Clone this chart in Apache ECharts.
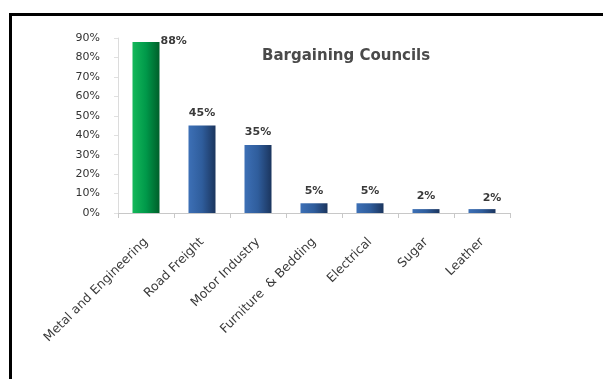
<!DOCTYPE html>
<html>
<head>
<meta charset="utf-8">
<script src="https://cdn.jsdelivr.net/npm/echarts@6/dist/echarts.min.js"></script>
<style>
  html, body { margin: 0; padding: 0; background: #fff; }
  #chart { position: absolute; left: 0; top: 0; width: 603px; height: 379px; }
  #frame { position: absolute; left: 9px; top: 13px; width: 700px; height: 400px;
           border-top: 3px solid #000; border-left: 3px solid #000; pointer-events: none; }
</style>
</head>
<body>
<div id="chart"></div>
<div id="frame"></div>
<script>
// Share of workers covered, by bargaining council
const categories = ['Metal and Engineering', 'Road Freight', 'Motor Industry',
                    'Furniture  & Bedding', 'Electrical', 'Sugar', 'Leather'];
const shares = [88, 45, 35, 5, 5, 2, 2];
const yTicks = [0, 10, 20, 30, 40, 50, 60, 70, 80, 90];

const chart = echarts.init(document.getElementById('chart'), null, { renderer: 'canvas' });
const FONT = 'DejaVu Sans, Verdana, sans-serif';

function barFill(first) {
  return first
    ? new echarts.graphic.LinearGradient(0, 0, 1, 0, [
        { offset: 0, color: '#14b85a' }, { offset: 0.5, color: '#00994a' }, { offset: 1, color: '#005f2a' }])
    : new echarts.graphic.LinearGradient(0, 0, 1, 0, [
        { offset: 0, color: '#3d70b6' }, { offset: 0.5, color: '#2f5d9c' }, { offset: 1, color: '#1b355e' }]);
}

const data = shares.map((v, i) => {
  const item = { value: v, itemStyle: { color: barFill(i === 0) } };
  if (i === 0) {
    item.label = { position: [28, -6], align: 'left' };
  } else if (i === shares.length - 1) {
    item.label = { offset: [10, 0] };
  } else {
    item.label = { offset: [0, -2] };
  }
  return item;
});

chart.setOption({
  animation: false,
  title: {
    text: 'Bargaining Councils',
    left: 262, top: 49, padding: 0,
    textStyle: { fontFamily: FONT, fontSize: 15, fontWeight: 'bold', color: '#4a4a4a' }
  },
  grid: { left: 118, right: 93, top: 38, bottom: 166, containLabel: false },
  xAxis: {
    type: 'category',
    data: categories,
    axisLine: { lineStyle: { color: '#c8c8c8' } },
    axisTick: { show: true, length: 5, alignWithLabel: false, lineStyle: { color: '#c8c8c8' } },
    axisLabel: {
      interval: 0, rotate: 45, margin: 27,
      fontFamily: FONT, fontSize: 12.5, color: '#3a3a3a'
    }
  },
  yAxis: {
    type: 'value',
    min: yTicks[0], max: yTicks[yTicks.length - 1], interval: 10,
    axisLine: { show: true, lineStyle: { color: '#dcdcdc' } },
    axisTick: { show: true, length: 4, lineStyle: { color: '#e0e0e0' } },
    splitLine: { show: false },
    axisLabel: {
      margin: 18,
      fontFamily: FONT, fontSize: 11, color: '#333',
      formatter: v => v + '%'
    }
  },
  series: [{
    type: 'bar',
    data: data,
    barWidth: 27,
    label: {
      show: true, position: 'top', formatter: p => p.value + '%',
      fontFamily: FONT, fontSize: 11, fontWeight: 'bold', color: '#3a3a3a'
    }
  }]
});
</script>
</body>
</html>
